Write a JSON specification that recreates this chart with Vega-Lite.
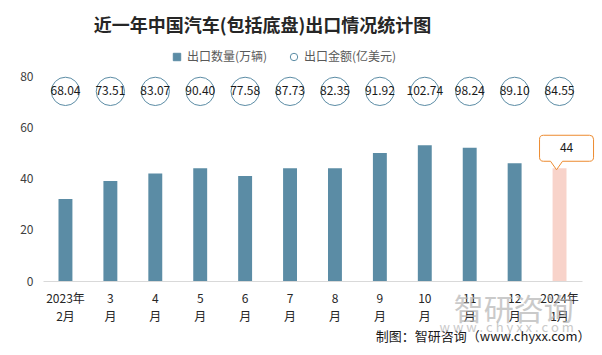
{
  "$schema": "https://vega.github.io/schema/vega-lite/v6.json",
  "width": 539,
  "height": 205,
  "autosize": {"type": "none"},
  "padding": {"left": 43, "top": 76, "right": 20, "bottom": 74},
  "background": "white",
  "title": {
    "text": "近一年中国汽车(包括底盘)出口情况统计图",
    "anchor": "start",
    "dx": 74,
    "offset": 15,
    "font": "Noto Sans CJK SC",
    "fontSize": 18,
    "fontWeight": "bold",
    "color": "#262626"
  },
  "config": {
    "view": {"stroke": null},
    "font": "Noto Sans CJK SC"
  },
  "resolve": {"axis": {"y": "independent"}},
  "data": {
    "values": [
      {"m": "2023年\n2月", "q": 32, "a": 68.04},
      {"m": "3\n月", "q": 39, "a": 73.51},
      {"m": "4\n月", "q": 42, "a": 83.07},
      {"m": "5\n月", "q": 44, "a": 90.40},
      {"m": "6\n月", "q": 41, "a": 77.58},
      {"m": "7\n月", "q": 44, "a": 87.73},
      {"m": "8\n月", "q": 44, "a": 82.35},
      {"m": "9\n月", "q": 50, "a": 91.92},
      {"m": "10\n月", "q": 53, "a": 102.74},
      {"m": "11\n月", "q": 52, "a": 98.24},
      {"m": "12\n月", "q": 46, "a": 89.10},
      {"m": "2024年\n1月", "q": 44, "a": 84.55}
    ]
  },
  "encoding": {
    "x": {
      "field": "m",
      "type": "nominal",
      "sort": null,
      "scale": {"paddingInner": 0.69, "paddingOuter": 0.345},
      "axis": {
        "title": "制图：智研咨询（www.chyxx.com）",
        "titleAnchor": "end",
        "titleAlign": "right",
        "titleX": 547,
        "titleFontSize": 13,
        "titleFontWeight": "normal",
        "titleColor": "#1a1a1a",
        "titlePadding": 8,
        "labelExpr": "split(datum.label, '\\n')",
        "labelAngle": 0,
        "labelFontSize": 12,
        "labelColor": "#262626",
        "labelLineHeight": 18,
        "labelPadding": 12,
        "ticks": false,
        "domainColor": "#d9d9d9",
        "domainWidth": 1
      }
    }
  },
  "layer": [
    {
      "mark": {"type": "bar", "stroke": null},
      "encoding": {
        "y": {
          "field": "q",
          "type": "quantitative",
          "scale": {"domain": [0, 80], "nice": false},
          "axis": {
            "title": null,
            "values": [0, 10, 20, 30, 40, 50, 60, 70, 80],
            "tickCount": 8,
            "labelOverlap": false,
            "grid": false,
            "domain": false,
            "ticks": false,
            "labelPadding": 10,
            "labelFontSize": 12,
            "labelColor": "#404040"
          }
        },
        "color": {
          "condition": {"test": "datum.m == '2024年\\n1月'", "value": "#f8d3ca"},
          "datum": "出口数量(万辆)",
          "type": "nominal",
          "scale": {"domain": ["出口数量(万辆)", "出口金额(亿美元)"], "range": ["#5b8ca5", "#5b8ca5"]},
          "legend": {
            "title": null,
            "orient": "none",
            "direction": "horizontal",
            "legendX": 128,
            "legendY": -25,
            "labelFontSize": 12,
            "labelColor": "#595959",
            "symbolSize": 55,
            "columnPadding": 20,
            "labelOffset": 4,
            "encoding": {
              "symbols": {
                "shape": {"condition": {"test": "datum.value == '出口数量(万辆)'", "value": "square"}, "value": "circle"},
                "fill": {"condition": {"test": "datum.value == '出口数量(万辆)'", "value": "#5b8ca5"}, "value": "#ffffff"},
                "fillOpacity": {"condition": {"test": "datum.value == '出口数量(万辆)'", "value": 1}, "value": 0},
                "stroke": {"value": "#7fa6ba"},
                "strokeWidth": {"value": 1}
              }
            }
          }
        }
      }
    },
    {
      "mark": {"type": "point", "shape": "circle", "filled": false, "size": 800, "strokeWidth": 1, "fill": "white", "fillOpacity": 1},
      "encoding": {
        "y": {"datum": 74, "type": "quantitative", "axis": null},
        "color": {"datum": "出口金额(亿美元)", "type": "nominal"}
      }
    },
    {
      "mark": {"type": "text", "fontSize": 12, "color": "#1a1a1a"},
      "encoding": {
        "y": {"datum": 74, "type": "quantitative", "axis": null},
        "text": {"field": "a", "type": "quantitative", "format": ".2f"}
      }
    },
    {
      "transform": [{"filter": "datum.m == '2024年\\n1月'"}],
      "mark": {
        "type": "point",
        "shape": "M -0.533 -1.1 L 1.0 -1.1 Q 1.133 -1.1 1.133 -0.967 L 1.133 -0.367 Q 1.133 -0.233 1.0 -0.233 L 0.1 -0.233 L -0.1 0.05 L -0.3 -0.233 L -0.533 -0.233 Q -0.667 -0.233 -0.667 -0.367 L -0.667 -0.967 Q -0.667 -1.1 -0.533 -1.1 Z",
        "size": 3600,
        "filled": true,
        "fill": "white",
        "fillOpacity": 1,
        "stroke": "#ed8b2f",
        "strokeWidth": 1,
        "opacity": 1
      },
      "encoding": {
        "y": {"field": "q", "type": "quantitative", "axis": null}
      }
    },
    {
      "transform": [{"filter": "datum.m == '2024年\\n1月'"}],
      "mark": {"type": "text", "fontSize": 12, "color": "#1a1a1a", "dx": 7, "dy": -20},
      "encoding": {
        "y": {"field": "q", "type": "quantitative", "axis": null},
        "text": {"field": "q", "type": "quantitative"}
      }
    },
    {
      "data": {"values": [{"t": "智研咨询"}]},
      "mark": {"type": "text", "fontSize": 30, "color": "#b4b4b4", "opacity": 0.7, "dx": 44, "baseline": "middle"},
      "encoding": {
        "x": {"datum": "11\n月"},
        "y": {"datum": -11.8, "type": "quantitative", "axis": null},
        "text": {"field": "t"}
      }
    },
    {
      "data": {"values": [{"t": "w w w . c h y x x . c o m"}]},
      "mark": {"type": "text", "fontSize": 13, "color": "#b4b4b4", "opacity": 0.7, "dx": 37, "baseline": "middle"},
      "encoding": {
        "x": {"datum": "11\n月"},
        "y": {"datum": -18.4, "type": "quantitative", "axis": null},
        "text": {"field": "t"}
      }
    }
  ]
}
